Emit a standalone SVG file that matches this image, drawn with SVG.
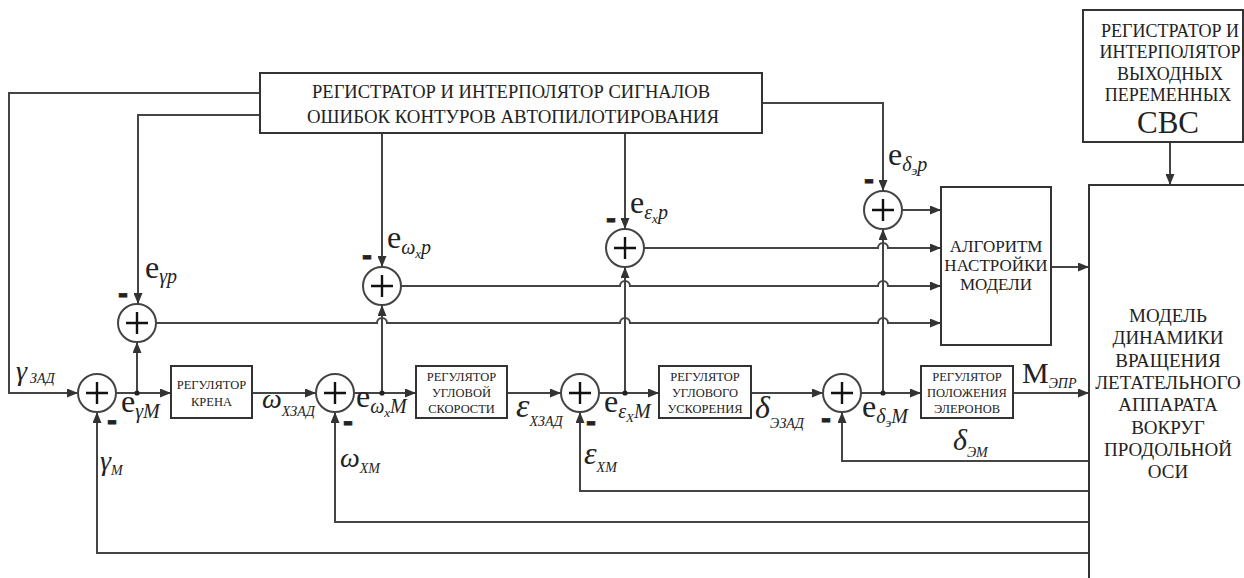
<svg xmlns="http://www.w3.org/2000/svg" xmlns:xlink="http://www.w3.org/1999/xlink" width="1244" height="578" viewBox="0 0 1244 578">
<style>
.bg{fill:#fff}
.box{fill:#fff;stroke:#333;stroke-width:2}
.ln{fill:none;stroke:#444;stroke-width:2}
.sc{fill:#fff;stroke:#444;stroke-width:2}
.pl{stroke:#111;stroke-width:2.4}
.dot{fill:#222}
.tx{font-family:'Liberation Serif','DejaVu Serif','Times New Roman',serif;fill:#222}
.t18{font-size:18px;text-anchor:middle}
.t12{font-size:12.5px;text-anchor:middle}
.t17{font-size:17px;text-anchor:middle}
.t19{font-size:19px;text-anchor:middle}
.big{font-size:31px;text-anchor:middle}
.e{font-size:32px}
.s{font-style:italic;font-size:20px}
.ss{font-style:italic;font-size:13px}
.g{font-style:italic;font-size:28px}
.gs{font-style:italic;font-size:14px}
.mn{font-family:'Liberation Sans',Arial,sans-serif;font-weight:bold;font-size:30px;text-anchor:middle;fill:#222;stroke:#222;stroke-width:0.8}
</style>
<defs>
<marker id="ar" markerUnits="userSpaceOnUse" markerWidth="11" markerHeight="9" refX="11" refY="4.5" orient="auto">
<path d="M0,0 L11,4.5 L0,9 z" fill="#333"/>
</marker>
<g id="sumj">
<circle class="sc" cx="0" cy="0" r="19"/>
<path class="pl" d="M-11,0 H11 M0,-11 V11"/>
</g>
</defs>
<rect class="bg" x="0" y="0" width="1244" height="578"/>

<g id="connectors">
<path class="ln" d="M260,93 H9 V393 H78" marker-end="url(#ar)"/>
<path class="ln" d="M260,115 H138 V304" marker-end="url(#ar)"/>
<path class="ln" d="M382,133 V267" marker-end="url(#ar)"/>
<path class="ln" d="M625,133 V229" marker-end="url(#ar)"/>
<path class="ln" d="M762,103 H883 V191" marker-end="url(#ar)"/>
<path class="ln" d="M116,393 H171" marker-end="url(#ar)"/>
<path class="ln" d="M252,393 H316" marker-end="url(#ar)"/>
<path class="ln" d="M354,393 H416" marker-end="url(#ar)"/>
<path class="ln" d="M507,393 H561" marker-end="url(#ar)"/>
<path class="ln" d="M599,393 H659" marker-end="url(#ar)"/>
<path class="ln" d="M751,393 H823" marker-end="url(#ar)"/>
<path class="ln" d="M861,393 H921" marker-end="url(#ar)"/>
<path class="ln" d="M1013,393 H1089" marker-end="url(#ar)"/>
<path class="ln" d="M137,393 V342" marker-end="url(#ar)"/>
<path class="ln" d="M382,393 V305" marker-end="url(#ar)"/>
<path class="ln" d="M625,393 V267" marker-end="url(#ar)"/>
<path class="ln" d="M883,393 V229" marker-end="url(#ar)"/>
<circle class="dot" cx="137" cy="393" r="2.6"/>
<circle class="dot" cx="382" cy="393" r="2.6"/>
<circle class="dot" cx="625" cy="393" r="2.6"/>
<circle class="dot" cx="883" cy="393" r="2.6"/>
<path class="ln" d="M156,323 H377 a5,5 0 0 1 10,0 H620 a5,5 0 0 1 10,0 H878 a5,5 0 0 1 10,0 H941" marker-end="url(#ar)"/>
<path class="ln" d="M401,286 H620 a5,5 0 0 1 10,0 H878 a5,5 0 0 1 10,0 H941" marker-end="url(#ar)"/>
<path class="ln" d="M644,248 H878 a5,5 0 0 1 10,0 H941" marker-end="url(#ar)"/>
<path class="ln" d="M902,210 H941" marker-end="url(#ar)"/>
<path class="ln" d="M1051,267 H1089" marker-end="url(#ar)"/>
<path class="ln" d="M1170,142 V185" marker-end="url(#ar)"/>
<path class="ln" d="M1089,461 H842 V412" marker-end="url(#ar)"/>
<path class="ln" d="M1089,491 H580 V412" marker-end="url(#ar)"/>
<path class="ln" d="M1089,522 H335 V412" marker-end="url(#ar)"/>
<path class="ln" d="M1089,553 H97 V412" marker-end="url(#ar)"/>
</g>

<g id="regTop" class="tx">
<rect class="box" x="260" y="73" width="502" height="60"/>
<text class="t18" x="511" y="98" textLength="398" lengthAdjust="spacingAndGlyphs">РЕГИСТРАТОР И ИНТЕРПОЛЯТОР СИГНАЛОВ</text>
<text class="t18" x="513" y="123" textLength="412" lengthAdjust="spacingAndGlyphs">ОШИБОК КОНТУРОВ АВТОПИЛОТИРОВАНИЯ</text>
</g>

<g id="regOut" class="tx">
<rect class="box" x="1083" y="10" width="160" height="132"/>
<text class="t18" x="1170" y="37">РЕГИСТРАТОР И</text>
<text class="t18" x="1170" y="58">ИНТЕРПОЛЯТОР</text>
<text class="t18" x="1170" y="80">ВЫХОДНЫХ</text>
<text class="t18" x="1168" y="101">ПЕРЕМЕННЫХ</text>
<text class="big" x="1168" y="133">СВС</text>
</g>

<g id="model" class="tx">
<rect class="box" x="1089" y="185" width="170" height="420"/>
<text class="t19" x="1168" y="322">МОДЕЛЬ</text>
<text class="t19" x="1168" y="344">ДИНАМИКИ</text>
<text class="t19" x="1168" y="367">ВРАЩЕНИЯ</text>
<text class="t19" x="1168" y="389">ЛЕТАТЕЛЬНОГО</text>
<text class="t19" x="1168" y="411">АППАРАТА</text>
<text class="t19" x="1168" y="434">ВОКРУГ</text>
<text class="t19" x="1168" y="456">ПРОДОЛЬНОЙ</text>
<text class="t19" x="1168" y="478">ОСИ</text>
</g>

<g id="algo" class="tx">
<rect class="box" x="941" y="187" width="110" height="158"/>
<text class="t17" x="996" y="252">АЛГОРИТМ</text>
<text class="t17" x="996" y="271">НАСТРОЙКИ</text>
<text class="t17" x="996" y="290">МОДЕЛИ</text>
</g>

<g id="regKren" class="tx">
<rect class="box" x="171" y="366" width="81" height="52"/>
<text class="t12" x="211.5" y="389">РЕГУЛЯТОР</text>
<text class="t12" x="211.5" y="406">КРЕНА</text>
</g>

<g id="regUglSk" class="tx">
<rect class="box" x="416" y="366" width="91" height="52"/>
<text class="t12" x="461.5" y="381">РЕГУЛЯТОР</text>
<text class="t12" x="461.5" y="397">УГЛОВОЙ</text>
<text class="t12" x="461.5" y="413">СКОРОСТИ</text>
</g>

<g id="regUglUsk" class="tx">
<rect class="box" x="659" y="366" width="92" height="52"/>
<text class="t12" x="705" y="381">РЕГУЛЯТОР</text>
<text class="t12" x="705" y="397">УГЛОВОГО</text>
<text class="t12" x="705" y="413">УСКОРЕНИЯ</text>
</g>

<g id="regPolEl" class="tx">
<rect class="box" x="921" y="366" width="92" height="52"/>
<text class="t12" x="967" y="381">РЕГУЛЯТОР</text>
<text class="t12" x="967" y="397">ПОЛОЖЕНИЯ</text>
<text class="t12" x="967" y="413">ЭЛЕРОНОВ</text>
</g>

<g id="sumGamma"><use xlink:href="#sumj" x="97" y="393"/><text class="mn" x="112" y="430">-</text></g>
<g id="sumOmega"><use xlink:href="#sumj" x="335" y="393"/><text class="mn" x="348" y="431">-</text></g>
<g id="sumEps"><use xlink:href="#sumj" x="580" y="393"/><text class="mn" x="591" y="431">-</text></g>
<g id="sumDelta"><use xlink:href="#sumj" x="842" y="393"/><text class="mn" x="826" y="428">-</text></g>
<g id="sumGammaP"><use xlink:href="#sumj" x="137" y="323"/><text class="mn" x="123" y="303">-</text></g>
<g id="sumOmegaP"><use xlink:href="#sumj" x="382" y="286"/><text class="mn" x="367" y="265">-</text></g>
<g id="sumEpsP"><use xlink:href="#sumj" x="625" y="248"/><text class="mn" x="611" y="228">-</text></g>
<g id="sumDeltaP"><use xlink:href="#sumj" x="883" y="210"/><text class="mn" x="869" y="189">-</text></g>

<g id="labels" class="tx">
<text class="e" x="145" y="278">e<tspan class="s" dy="5">γp</tspan></text>
<text class="e" x="387" y="248">e<tspan class="s" dy="6">ω</tspan><tspan class="ss" dy="4">x</tspan><tspan class="s" dy="-4">p</tspan></text>
<text class="e" x="630" y="213">e<tspan class="s" dy="6">ε</tspan><tspan class="ss" dy="4">x</tspan><tspan class="s" dy="-4">p</tspan></text>
<text class="e" x="888" y="165">e<tspan class="s" dy="6">δ</tspan><tspan class="ss" dy="4">э</tspan><tspan class="s" dy="-4">p</tspan></text>
<text class="e" x="121" y="412">e<tspan class="s" dy="6">γM</tspan></text>
<text class="e" x="356" y="407">e<tspan class="s" dy="6">ω</tspan><tspan class="ss" dy="4">x</tspan><tspan class="s" dy="-4">M</tspan></text>
<text class="e" x="604" y="412">e<tspan class="s" dy="6">ε</tspan><tspan class="ss" dy="4">X</tspan><tspan class="s" dy="-4">M</tspan></text>
<text class="e" x="862" y="417">e<tspan class="s" dy="6">δ</tspan><tspan class="ss" dy="4">э</tspan><tspan class="s" dy="-4">M</tspan></text>

<text class="g" x="16" y="380">γ<tspan class="gs" dx="3" dy="3">ЗАД</tspan></text>
<text class="g" x="262" y="408">ω<tspan class="gs" dy="8">XЗАД</tspan></text>
<text class="g" x="100" y="470">γ<tspan class="gs" dy="5">M</tspan></text>
<text class="g" x="340" y="467">ω<tspan class="gs" dy="6">XM</tspan></text>
<text class="g" x="516" y="417" style="font-size:34px">ε<tspan class="gs" dy="9">XЗАД</tspan></text>
<text class="g" x="584" y="464" style="font-size:32px">ε<tspan class="gs" dy="8">XM</tspan></text>
<text class="g" x="755" y="418" style="font-size:32px">δ<tspan class="gs" dy="10">ЭЗАД</tspan></text>
<text class="g" x="953" y="450" style="font-size:30px">δ<tspan class="gs" dy="7">ЭМ</tspan></text>
<text x="1022" y="383" style="font-size:30px">M<tspan class="gs" dy="5">ЭПР</tspan></text>
</g>
</svg>
